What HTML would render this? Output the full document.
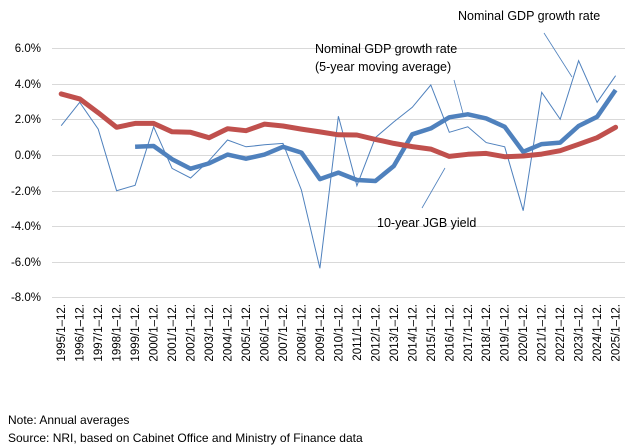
<!DOCTYPE html><html><head><meta charset="utf-8"><style>body{margin:0;background:#fff}svg{display:block}text{font-family:"Liberation Sans",sans-serif;fill:#000}</style></head><body>
<svg width="635" height="447" viewBox="0 0 635 447" xmlns="http://www.w3.org/2000/svg">
<g stroke="#d9d9d9" stroke-width="1">
<line x1="52" x2="625" y1="48.5" y2="48.5"/><line x1="52" x2="625" y1="84.5" y2="84.5"/><line x1="52" x2="625" y1="119.5" y2="119.5"/><line x1="52" x2="625" y1="155.5" y2="155.5"/><line x1="52" x2="625" y1="191.5" y2="191.5"/><line x1="52" x2="625" y1="226.5" y2="226.5"/><line x1="52" x2="625" y1="262.5" y2="262.5"/><line x1="52" x2="625" y1="297.5" y2="297.5"/>
</g>
<g font-size="11.5" text-anchor="end">
<text x="41" y="52">6.0%</text><text x="41" y="88">4.0%</text><text x="41" y="123">2.0%</text><text x="41" y="159">0.0%</text><text x="41" y="195">-2.0%</text><text x="41" y="230">-4.0%</text><text x="41" y="266">-6.0%</text><text x="41" y="301">-8.0%</text>
</g>
<g font-size="11.5" text-anchor="end">
<text transform="translate(65.2,304) rotate(-90)">1995/1–12.</text>
<text transform="translate(83.7,304) rotate(-90)">1996/1–12.</text>
<text transform="translate(102.2,304) rotate(-90)">1997/1–12.</text>
<text transform="translate(120.6,304) rotate(-90)">1998/1–12.</text>
<text transform="translate(139.1,304) rotate(-90)">1999/1–12.</text>
<text transform="translate(157.6,304) rotate(-90)">2000/1–12.</text>
<text transform="translate(176.1,304) rotate(-90)">2001/1–12.</text>
<text transform="translate(194.6,304) rotate(-90)">2002/1–12.</text>
<text transform="translate(213.0,304) rotate(-90)">2003/1–12.</text>
<text transform="translate(231.5,304) rotate(-90)">2004/1–12.</text>
<text transform="translate(250.0,304) rotate(-90)">2005/1–12.</text>
<text transform="translate(268.5,304) rotate(-90)">2006/1–12.</text>
<text transform="translate(287.0,304) rotate(-90)">2007/1–12.</text>
<text transform="translate(305.4,304) rotate(-90)">2008/1–12.</text>
<text transform="translate(323.9,304) rotate(-90)">2009/1–12.</text>
<text transform="translate(342.4,304) rotate(-90)">2010/1–12.</text>
<text transform="translate(360.9,304) rotate(-90)">2011/1–12.</text>
<text transform="translate(379.4,304) rotate(-90)">2012/1–12.</text>
<text transform="translate(397.8,304) rotate(-90)">2013/1–12.</text>
<text transform="translate(416.3,304) rotate(-90)">2014/1–12.</text>
<text transform="translate(434.8,304) rotate(-90)">2015/1–12.</text>
<text transform="translate(453.3,304) rotate(-90)">2016/1–12.</text>
<text transform="translate(471.8,304) rotate(-90)">2017/1–12.</text>
<text transform="translate(490.2,304) rotate(-90)">2018/1–12.</text>
<text transform="translate(508.7,304) rotate(-90)">2019/1–12.</text>
<text transform="translate(527.2,304) rotate(-90)">2020/1–12.</text>
<text transform="translate(545.7,304) rotate(-90)">2021/1–12.</text>
<text transform="translate(564.2,304) rotate(-90)">2022/1–12.</text>
<text transform="translate(582.6,304) rotate(-90)">2023/1–12.</text>
<text transform="translate(601.1,304) rotate(-90)">2024/1–12.</text>
<text transform="translate(619.6,304) rotate(-90)">2025/1–12.</text>
</g>
<polyline fill="none" stroke="#4f81bd" stroke-width="1" points="61.2,125.7 79.7,102.3 98.2,129.1 116.6,190.7 135.1,185.3 153.6,126.8 172.1,168.4 190.6,178.0 209.0,160.7 227.5,140.0 246.0,146.8 264.5,144.8 283.0,143.4 301.4,190.0 319.9,268.3 338.4,116.2 356.9,185.7 375.4,137.6 393.8,121.9 412.3,107.3 430.8,85.0 449.3,132.3 467.8,126.8 486.2,142.6 504.7,146.8 523.2,210.7 541.7,92.3 560.2,119.3 578.6,60.7 597.1,102.3 615.6,75.7"/>
<polyline fill="none" stroke="#4f81bd" stroke-width="4.5" stroke-linejoin="round" points="135.1,146.8 153.6,146.0 172.1,159.2 190.6,168.7 209.0,163.4 227.5,154.6 246.0,158.7 264.5,154.6 283.0,146.8 301.4,152.6 319.9,179.1 338.4,172.6 356.9,180.0 375.4,181.0 393.8,166.0 412.3,134.3 430.8,128.4 449.3,117.3 467.8,114.3 486.2,118.4 504.7,126.8 523.2,151.8 541.7,144.1 560.2,142.6 578.6,126.0 597.1,116.8 615.6,90.0"/>
<polyline fill="none" stroke="#c0504d" stroke-width="5" stroke-linejoin="round" stroke-linecap="round" points="61.2,93.9 79.7,98.9 98.2,112.7 116.6,127.3 135.1,123.4 153.6,123.4 172.1,131.8 190.6,132.3 209.0,137.7 227.5,128.7 246.0,130.7 264.5,124.1 283.0,126.0 301.4,129.1 319.9,131.9 338.4,134.8 356.9,135.0 375.4,139.4 393.8,143.4 412.3,146.6 430.8,149.1 449.3,156.4 467.8,154.3 486.2,153.4 504.7,156.7 523.2,156.0 541.7,154.1 560.2,150.7 578.6,144.3 597.1,137.7 615.6,127.3"/>
<g stroke="#4f81bd" stroke-width="0.8">
<line x1="544" y1="33" x2="572" y2="77"/><line x1="454" y1="80" x2="464" y2="117"/><line x1="422" y1="208" x2="445" y2="168"/>
</g>
<g font-size="12.5">
<text x="458" y="20">Nominal GDP growth rate</text>
<text x="315" y="53">Nominal GDP growth rate</text>
<text x="315" y="71">(5-year moving average)</text>
<text x="377" y="227">10-year JGB yield</text>
</g>
<g font-size="12"><text x="8" y="424">Note: Annual averages</text><text x="8" y="442">Source: NRI, based on Cabinet Office and Ministry of Finance data</text></g>
</svg></body></html>
